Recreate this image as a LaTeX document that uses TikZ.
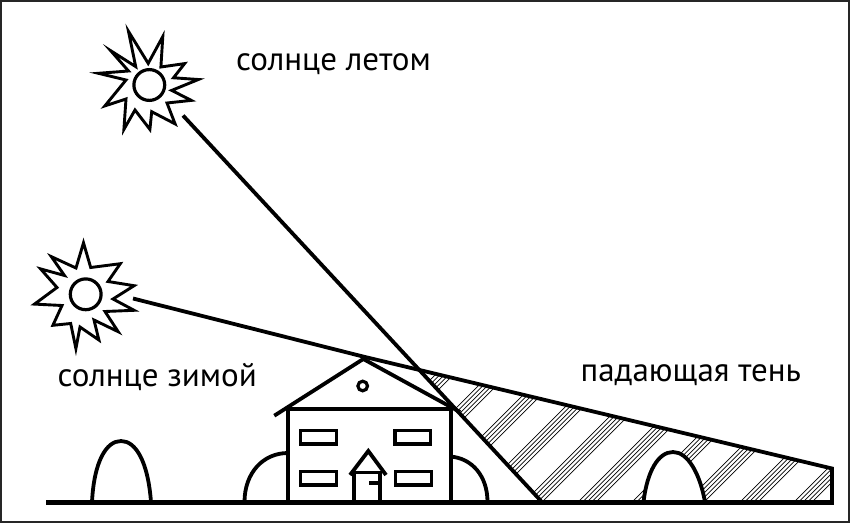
\documentclass[tikz,border=0pt]{standalone}
\usepackage{fontspec}
\setmainfont{PT Sans}
\usetikzlibrary{calc}
\tikzset{
  heavy/.style={line width=3.8pt,line join=miter,black},
  sunline/.style={line width=2.9pt,line join=miter,miter limit=12,black,fill=white},
  hatchline/.style={line width=0.7pt,black},
  label/.style={inner sep=0pt,anchor=base west,font=\fontsize{33}{36}\selectfont},
}
\begin{document}
\begin{tikzpicture}[x=1pt,y=-1pt]
\useasboundingbox (0,0) rectangle (850,524);
\fill[white] (0,0) rectangle (850,524);
\draw[line width=2.2pt,black!85] (1,1) rectangle (848.6,522.2);
% named points
\coordinate (summerStart) at (183,115.5);
\coordinate (summerEnd) at (541,501);
\coordinate (winterStart) at (133,298.5);
\coordinate (winterMid) at (363,356.5);
\coordinate (winterEnd) at (832,468.5);
\coordinate (groundL) at (46,502);
\coordinate (groundR) at (834,502);
\coordinate (cornerR) at (832,502);
\coordinate (apex) at (intersection of summerStart--summerEnd and winterMid--winterEnd);
% hatching
\begin{scope}
\clip (apex) -- (winterEnd) -- (cornerR) -- (summerEnd) -- cycle;
\foreach \k in {0,...,9}{
  \foreach \o in {0,4.5,9,13.5,18}{
    \pgfmathsetmacro{\c}{810+54*\k+\o}
    \draw[hatchline] ({\c-520},520) -- ({\c-340},340);
  }
}
\end{scope}
% humps and bushes
\draw[heavy,fill=white] (92,502) .. controls (94,462) and (106,441) .. (121,441) .. controls (136,441) and (148,462) .. (151,502);
\draw[heavy,fill=white] (643.5,502) .. controls (647,472) and (658,452) .. (673,452) .. controls (688,452) and (700,474) .. (705,502);
\draw[heavy] (244.5,502) .. controls (244.5,473) and (263,453) .. (288,453);
\draw[heavy] (450,456.5) .. controls (472,458) and (487.5,476) .. (487.5,502);
% rays
\draw[heavy] (summerStart) -- (summerEnd);
\draw[heavy] (winterStart) -- (winterMid) -- (winterEnd) -- (cornerR);
% house
\draw[heavy] (287.7,409.3) rectangle (450.7,502);
\draw[heavy] (274.3,415.7) -- (363.3,359) -- (460,412);
\draw[heavy,line width=3.2pt] (362.7,386) circle (4.8pt);
\draw[heavy,line width=3.4pt] (300.7,430.7) rectangle (336.6,444);
\draw[heavy,line width=3.4pt] (395,430.7) rectangle (430.6,444);
\draw[heavy,line width=3.4pt] (300.7,471.7) rectangle (336.6,485);
\draw[heavy,line width=3.4pt] (395.7,471.7) rectangle (431.6,485);
% door
\draw[heavy] (354.3,502) -- (354.3,472.5) -- (380,472.5) -- (380,502);
\draw[heavy] (350,475) -- (368.3,451) -- (386,475);
\draw[heavy] (369.3,482.7) -- (380,482.7);
% ground
\draw[line width=5pt,black] (groundL) -- (groundR);
% summer sun
\draw[sunline] (128.5,31.4) -- (148.2,63.4) -- (162.8,36.5) -- (160.9,67) -- (184.6,63.6) -- (173.5,77.8) -- (198.4,79.5) -- (171.7,90.4) -- (191.3,100.4) -- (167,103) -- (175.1,123.9) -- (151.7,111.7) -- (149.9,129.4) -- (135,110) -- (123.9,129.4) -- (126,99) -- (104.9,105.9) -- (126,80) -- (98.4,73.3) -- (128.5,71) -- (110.7,50.7) -- (135.7,66.6) -- cycle;
\draw[heavy,line width=3.2pt,fill=white] (149.3,85) circle (15.4pt);
% winter sun
\draw[sunline] (83.5,242.8) -- (90.7,267.5) -- (120.3,263.7) -- (108,281.5) -- (134.1,285.7) -- (113,299) -- (134.1,310.3) -- (105,311.5) -- (118.2,331.7) -- (94,320) -- (98.9,340) -- (80,327) -- (75.9,348.6) -- (70.7,323.5) -- (52.9,325.3) -- (62,305.5) -- (34.5,304.1) -- (57,287.5) -- (40.6,268.9) -- (64.5,275.5) -- (51.3,256.6) -- (76,268) -- cycle;
\draw[heavy,line width=3.2pt,fill=white] (85.7,294.3) circle (15.4pt);
% labels
\node[label] (summerLabel) at (236,70.7) {солнце летом};
\node[label] (winterLabel) at (57.5,386.7) {солнце зимой};
\node[label] (shadowLabel) at (580.5,381) {падающая тень};
\end{tikzpicture}
\end{document}
